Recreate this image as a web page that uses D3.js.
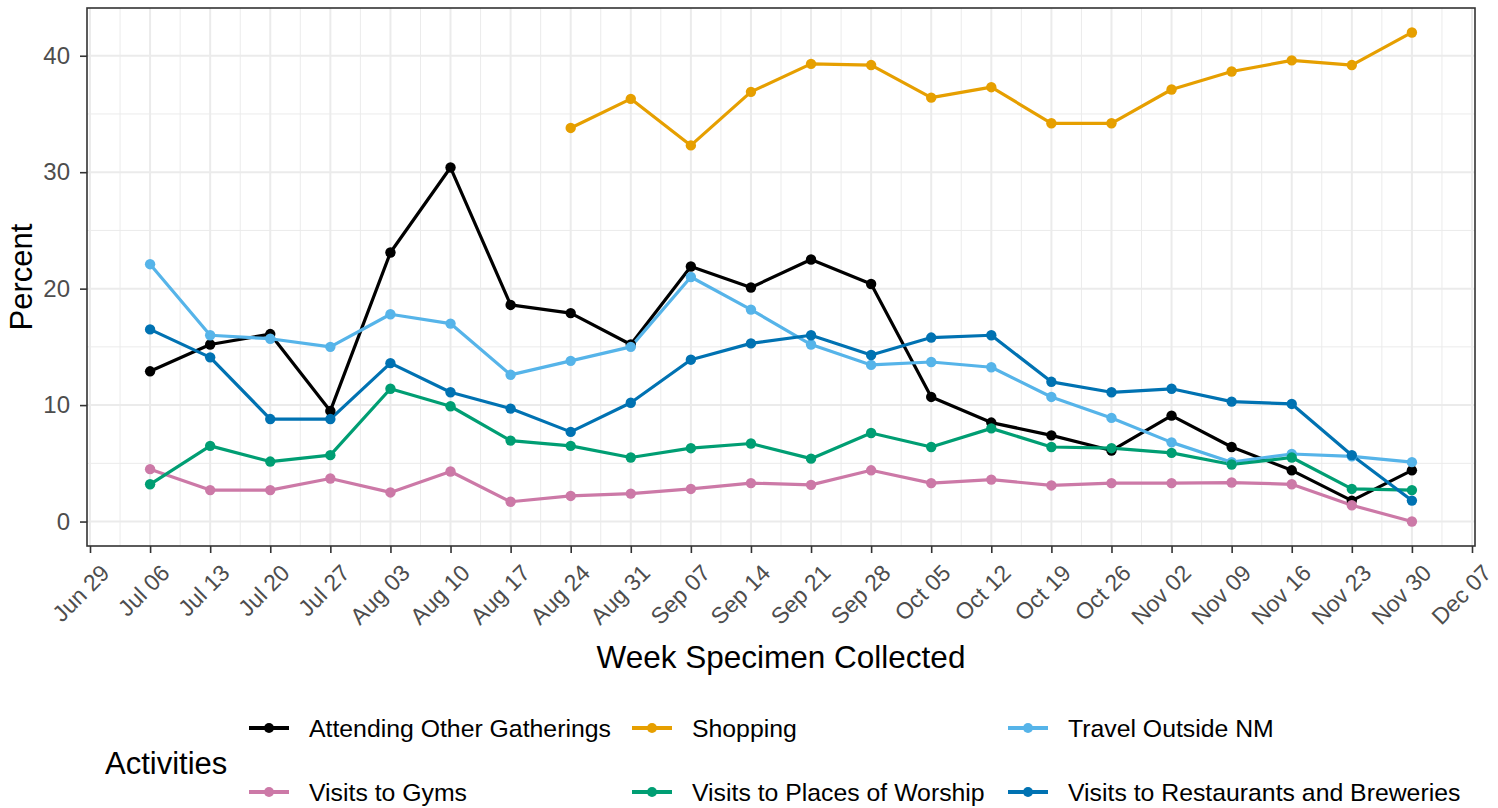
<!DOCTYPE html>
<html><head><meta charset="utf-8">
<script src="https://cdn.jsdelivr.net/npm/d3@7"></script>
<style>
html,body{margin:0;padding:0;background:#fff;}
svg{display:block;font-family:"Liberation Sans",Arial,sans-serif;}
</style></head>
<body><svg id="chart" width="1498" height="808"></svg>
<script>
const weeks = ["2020-07-06","2020-07-13","2020-07-20","2020-07-27","2020-08-03","2020-08-10","2020-08-17","2020-08-24","2020-08-31","2020-09-07","2020-09-14","2020-09-21","2020-09-28","2020-10-05","2020-10-12","2020-10-19","2020-10-26","2020-11-02","2020-11-09","2020-11-16","2020-11-23","2020-11-30"];
const attending = [12.9,15.2,16.1,9.5,23.1,30.4,18.6,17.9,15.2,21.9,20.1,22.5,20.4,10.7,8.5,7.4,6.1,9.1,6.4,4.4,1.8,4.4];
const shopping = [null,null,null,null,null,null,null,33.8,36.3,32.3,36.9,39.3,39.2,36.4,37.3,34.2,34.2,37.1,38.65,39.6,39.2,42.0];
const travel = [22.1,16.0,15.7,15.0,17.8,17.0,12.6,13.8,15.0,21.0,18.2,15.2,13.45,13.7,13.25,10.7,8.9,6.8,5.1,5.8,5.6,5.1];
const gyms = [4.5,2.7,2.7,3.7,2.5,4.3,1.7,2.2,2.4,2.8,3.3,3.15,4.4,3.3,3.6,3.1,3.3,3.3,3.35,3.2,1.4,0.0];
const worship = [3.2,6.5,5.15,5.7,11.4,9.9,6.95,6.5,5.5,6.3,6.7,5.4,7.6,6.4,8.0,6.4,6.3,5.9,4.9,5.5,2.8,2.7];
const restaurants = [16.5,14.1,8.8,8.8,13.6,11.1,9.7,7.7,10.2,13.9,15.3,16.0,14.3,15.8,16.0,12.0,11.1,11.4,10.3,10.1,5.7,1.8];
const seriesNames = ["Attending Other Gatherings","Shopping","Travel Outside NM","Visits to Gyms","Visits to Places of Worship","Visits to Restaurants and Breweries"];
const seriesColors = ["#000000","#E69F00","#56B4E9","#CC79A7","#009E73","#0072B2"];
const seriesValues = [attending,shopping,travel,gyms,worship,restaurants];
const xTickDates = ["2020-06-29","2020-07-06","2020-07-13","2020-07-20","2020-07-27","2020-08-03","2020-08-10","2020-08-17","2020-08-24","2020-08-31","2020-09-07","2020-09-14","2020-09-21","2020-09-28","2020-10-05","2020-10-12","2020-10-19","2020-10-26","2020-11-02","2020-11-09","2020-11-16","2020-11-23","2020-11-30","2020-12-07"];
const yTicks = [0,10,20,30,40];
const yMinor = [5,15,25,35];
const xTitle = "Week Specimen Collected", yTitle = "Percent", legendTitle = "Activities";

const parse = d3.utcParse("%Y-%m-%d");
const fmt = d3.utcFormat("%b %d");
const svg = d3.select("#chart");
const L = 87, R = 1475, T = 8, B = 546;
const wDates = weeks.map(parse);
const ext = d3.extent(wDates);
const span = ext[1]-ext[0];
const x = d3.scaleUtc().domain([new Date(+ext[0]-span*0.05), new Date(+ext[1]+span*0.05)]).range([L,R]);
const allVals = seriesValues.flat().filter(v=>v!=null);
const yMin = d3.min(allVals), yMax = d3.max(allVals), yr = yMax-yMin;
const y = d3.scaleLinear().domain([yMin-yr*0.05, yMax+yr*0.05]).range([B,T]);
const tickDates = xTickDates.map(parse);
const minorDates = tickDates.slice(0,-1).map((d,i)=>new Date((+d + +tickDates[i+1])/2));

const g = svg.append("g");
// grid
g.selectAll(".ymin").data(yMinor).join("line").attr("x1",L).attr("x2",R).attr("y1",d=>y(d)).attr("y2",d=>y(d)).attr("stroke","#ebebeb").attr("stroke-width",1);
g.selectAll(".xmin").data(minorDates).join("line").attr("x1",d=>x(d)).attr("x2",d=>x(d)).attr("y1",T).attr("y2",B).attr("stroke","#ebebeb").attr("stroke-width",1);
g.selectAll(".ymaj").data(yTicks).join("line").attr("x1",L).attr("x2",R).attr("y1",d=>y(d)).attr("y2",d=>y(d)).attr("stroke","#ebebeb").attr("stroke-width",2);
g.selectAll(".xmaj").data(tickDates).join("line").attr("x1",d=>x(d)).attr("x2",d=>x(d)).attr("y1",T).attr("y2",B).attr("stroke","#ebebeb").attr("stroke-width",2);

// lines
const line = d3.line().defined(d=>d.v!=null).x(d=>x(d.d)).y(d=>y(d.v));
seriesValues.forEach((vals,i)=>{
  const pts = vals.map((v,j)=>({d:wDates[j],v}));
  g.append("path").datum(pts).attr("d",line).attr("fill","none").attr("stroke",seriesColors[i]).attr("stroke-width",3.2).attr("stroke-linejoin","round");
});
seriesValues.forEach((vals,i)=>{
  const pts = vals.map((v,j)=>({d:wDates[j],v})).filter(p=>p.v!=null);
  g.selectAll(null).data(pts).join("circle").attr("cx",p=>x(p.d)).attr("cy",p=>y(p.v)).attr("r",5.2).attr("fill",seriesColors[i]);
});

// border
svg.append("rect").attr("x",L).attr("y",T).attr("width",R-L).attr("height",B-T).attr("fill","none").attr("stroke","#333333").attr("stroke-width",1.6);

// axes
const xAxis = svg.append("g").attr("transform",`translate(0,${B})`)
  .call(d3.axisBottom(x).tickValues(tickDates).tickFormat(fmt).tickSize(7).tickPadding(0));
xAxis.select(".domain").remove();
xAxis.selectAll(".tick line").attr("stroke","#333333").attr("stroke-width",1.6);
xAxis.selectAll(".tick text").attr("fill","#4d4d4d").style("font-size","23px")
  .attr("text-anchor","end").attr("y",null)
  .attr("transform","translate(9,17) rotate(-45)").attr("dy","0.7em");

const yAxis = svg.append("g").attr("transform",`translate(${L},0)`)
  .call(d3.axisLeft(y).tickValues(yTicks).tickSize(7).tickPadding(10));
yAxis.select(".domain").remove();
yAxis.selectAll(".tick line").attr("stroke","#333333").attr("stroke-width",1.6);
yAxis.selectAll(".tick text").attr("fill","#4d4d4d").style("font-size","24px");

svg.append("text").attr("x",(L+R)/2).attr("y",668).attr("text-anchor","middle").style("font-size","31.5px").attr("fill","#000").text(xTitle);
svg.append("text").attr("transform",`translate(32,${(T+B)/2}) rotate(-90)`).attr("text-anchor","middle").style("font-size","31px").attr("fill","#000").text(yTitle);

// legend
svg.append("text").attr("x",105).attr("y",763).attr("dy","0.35em").style("font-size","31px").text(legendTitle);
const colX = [249,632,1008];
const rowY = [728,792];
seriesNames.forEach((name,i)=>{
  const cx = colX[i%3], cy = rowY[Math.floor(i/3)];
  const lg = svg.append("g");
  lg.append("line").attr("x1",cx).attr("x2",cx+40).attr("y1",cy).attr("y2",cy).attr("stroke",seriesColors[i]).attr("stroke-width",4);
  lg.append("circle").attr("cx",cx+20).attr("cy",cy).attr("r",5).attr("fill",seriesColors[i]);
  lg.append("text").attr("x",cx+60).attr("y",cy).attr("dy","0.35em").style("font-size","24.8px").attr("fill","#000").text(name);
});
</script></body></html>
